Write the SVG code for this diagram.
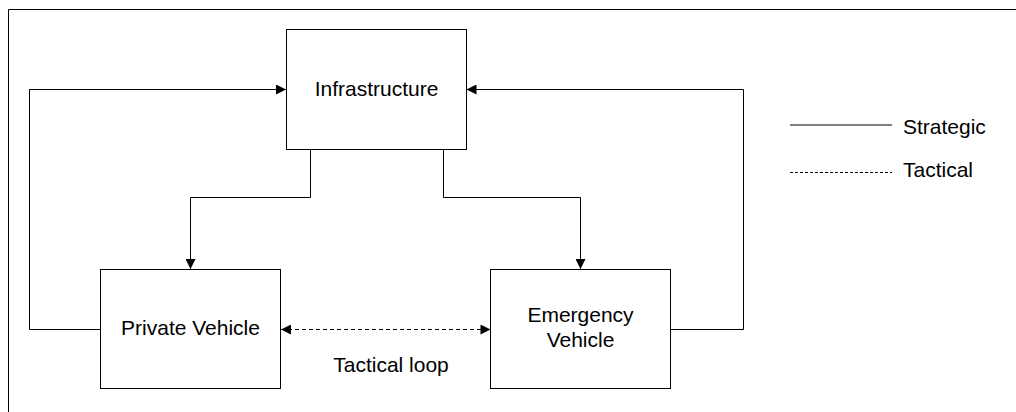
<svg xmlns="http://www.w3.org/2000/svg" width="1016" height="412" viewBox="0 0 1016 412">
  <style>
    .box { fill: #ffffff; stroke: #000000; stroke-width: 1; }
    .lbl { font-family: "Liberation Sans", Arial, sans-serif; font-size: 21px; fill: #000000; }
    .mid { text-anchor: middle; }
    .solid { fill: none; stroke: #000000; stroke-width: 1; }
    .dash { fill: none; stroke: #000000; stroke-width: 1; stroke-dasharray: 4 3; }
    .dash-small { fill: none; stroke: #000000; stroke-width: 1; stroke-dasharray: 3 2; }
  </style>
  <defs>
    <marker id="arrow" viewBox="0 0 10 10" refX="10" refY="5" markerWidth="16" markerHeight="10" markerUnits="userSpaceOnUse" orient="auto-start-reverse">
      <path d="M0,0 L10,5 L0,10 z" fill="#000000"/>
    </marker>
  </defs>

  <rect width="1016" height="412" fill="#ffffff"/>
  <!-- page frame -->
  <path d="M8.5,412 V9.5 H1016" fill="none" stroke="#000000" stroke-width="1"/>

  <g id="connectors">
    <!-- private vehicle to infrastructure -->
    <path class="solid" d="M100.5,329.5 H29.5 V89.5 H286" marker-end="url(#arrow)"/>
    <!-- emergency vehicle to infrastructure -->
    <path class="solid" d="M670.5,329.5 H743.5 V89.5 H466.5" marker-end="url(#arrow)"/>
    <!-- infrastructure to private vehicle -->
    <path class="solid" d="M310.5,149.5 V197.5 H190.5 V269" marker-end="url(#arrow)"/>
    <!-- infrastructure to emergency vehicle -->
    <path class="solid" d="M443.5,149.5 V197.5 H580.5 V269" marker-end="url(#arrow)"/>
    <!-- tactical loop -->
    <path class="dash" d="M281,329.5 H490.5" marker-start="url(#arrow)" marker-end="url(#arrow)"/>
  </g>

  <g id="infrastructure">
    <rect class="box" x="286.5" y="29.5" width="180" height="120"/>
    <text class="lbl mid" x="376.5" y="96">Infrastructure</text>
  </g>

  <g id="private-vehicle">
    <rect class="box" x="100.5" y="269.5" width="180" height="119"/>
    <text class="lbl mid" x="190.5" y="335">Private Vehicle</text>
  </g>

  <g id="emergency-vehicle">
    <rect class="box" x="490.5" y="269.5" width="180" height="119"/>
    <text class="lbl mid" x="580.5" y="322">Emergency</text>
    <text class="lbl mid" x="580.5" y="347">Vehicle</text>
  </g>

  <g id="tactical-loop-label">
    <text class="lbl mid" x="391" y="372">Tactical loop</text>
  </g>

  <g id="legend">
    <path class="solid" d="M790,125 H892"/>
    <text class="lbl" x="903" y="134">Strategic</text>
    <path class="dash-small" d="M790,172.5 H892"/>
    <text class="lbl" x="903" y="177">Tactical</text>
  </g>
</svg>
